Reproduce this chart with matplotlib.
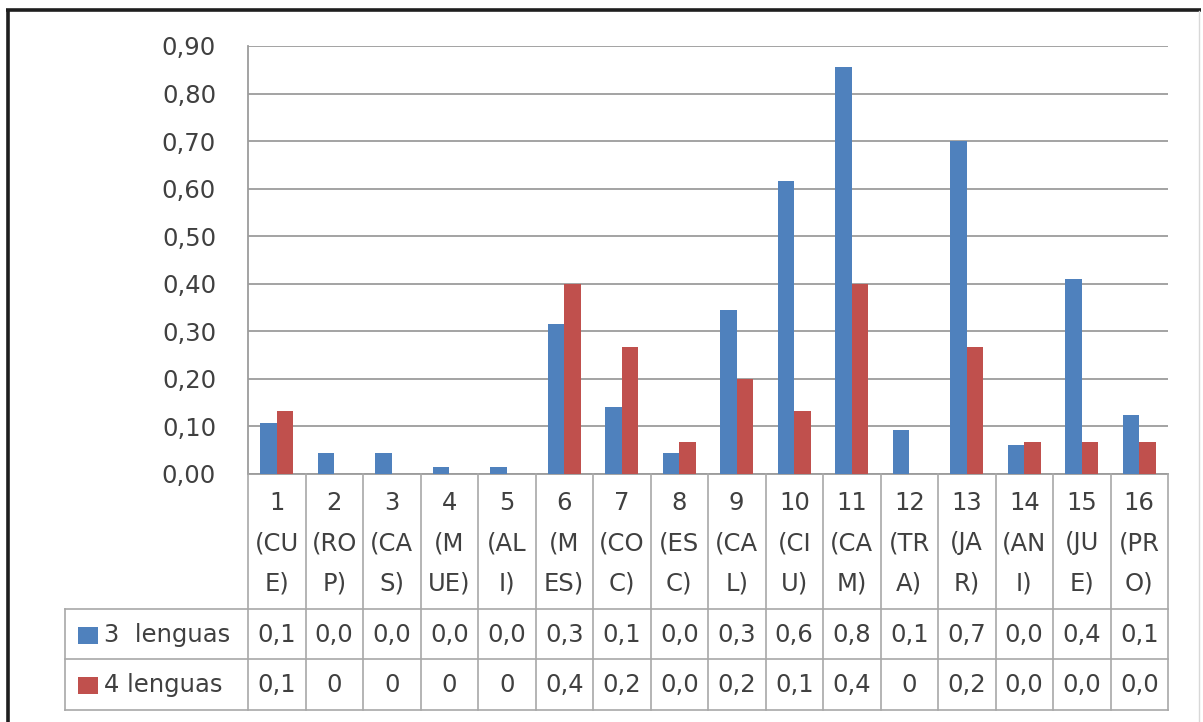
import matplotlib
matplotlib.use("Agg")
import matplotlib.pyplot as plt
import matplotlib.transforms as mtransforms
from matplotlib.lines import Line2D
from matplotlib.patches import Rectangle
import numpy as np

# ---- data ----
categories = ["1\n(CU\nE)", "2\n(RO\nP)", "3\n(CA\nS)", "4\n(M\nUE)", "5\n(AL\nI)",
              "6\n(M\nES)", "7\n(CO\nC)", "8\n(ES\nC)", "9\n(CA\nL)", "10\n(CI\nU)",
              "11\n(CA\nM)", "12\n(TR\nA)", "13\n(JA\nR)", "14\n(AN\nI)", "15\n(JU\nE)",
              "16\n(PR\nO)"]
series_names = ["3  lenguas", "4 lenguas"]
tres_lenguas = [0.107, 0.044, 0.044, 0.014, 0.014, 0.316, 0.141, 0.044, 0.345, 0.617,
                0.855, 0.093, 0.700, 0.060, 0.409, 0.124]
cuatro_lenguas = [0.1333, 0.0, 0.0, 0.0, 0.0, 0.4, 0.2667, 0.0667, 0.2, 0.1333,
                  0.4, 0.0, 0.2667, 0.0667, 0.0667, 0.0667]
# cell texts of the data table (the narrow cells show only the first characters)
tabla_tres = ["0,1", "0,0", "0,0", "0,0", "0,0", "0,3", "0,1", "0,0", "0,3", "0,6",
              "0,8", "0,1", "0,7", "0,0", "0,4", "0,1"]
tabla_cuatro = ["0,1", "0", "0", "0", "0", "0,4", "0,2", "0,0", "0,2", "0,1",
                "0,4", "0", "0,2", "0,0", "0,0", "0,0"]
yticks = [0.0, 0.1, 0.2, 0.3, 0.4, 0.5, 0.6, 0.7, 0.8, 0.9]

BLUE = "#4F81BD"
RED = "#C0504D"
TXT = "#404040"
GRID = "#9C9C9C"
CELL = "#A8A8A8"
FONT = "DejaVu Sans"
FS = 17.5

W, H = 1203, 722


def fx(px):
    return px / W


def fy(py):
    return 1 - py / H


fig = plt.figure(figsize=(W / 100, H / 100), dpi=100)
fig.patch.set_facecolor("white")

ax_left, ax_right, ax_top, ax_bot = 248, 1168, 46, 474
ax = fig.add_axes([fx(ax_left), fy(ax_bot), fx(ax_right - ax_left), (ax_bot - ax_top) / H])

n = len(categories)
x = np.arange(n)
bw = 0.285
ax.bar(x - bw / 2, tres_lenguas, bw, color=BLUE, zorder=3, linewidth=0)
ax.bar(x + bw / 2, cuatro_lenguas, bw, color=RED, zorder=3, linewidth=0)

ax.set_xlim(-0.5, n - 0.5)
ax.set_ylim(0, 0.9)
ax.set_yticks(yticks)
ax.set_yticklabels([f"{t:.2f}".replace(".", ",") for t in yticks],
                   fontsize=FS, color=TXT, family=FONT)
ax.tick_params(axis="y", length=0, pad=23)
ax.set_xticks([])
ax.yaxis.grid(True, color=GRID, linewidth=1.3, zorder=0)
ax.set_axisbelow(True)
for side in ("top", "right"):
    ax.spines[side].set_visible(False)
ax.spines["left"].set_color(GRID)
ax.spines["left"].set_linewidth(1.3)
ax.spines["bottom"].set_color(GRID)
ax.spines["bottom"].set_linewidth(1.3)

# ---- data table below the axis ----
blend = mtransforms.blended_transform_factory(ax.transData, fig.transFigure)
row_top, row1, row2, row_bot = ax_bot, 609, 659, 710
leg_left = 65

for i in range(n + 1):
    xb = i - 0.5
    fig.add_artist(Line2D([xb, xb], [fy(row_top), fy(row_bot)], transform=blend,
                          color=CELL, linewidth=1.2))
for yy in (row1, row2, row_bot):
    fig.add_artist(Line2D([fx(leg_left), fx(ax_right)], [fy(yy), fy(yy)],
                          transform=fig.transFigure, color=CELL, linewidth=1.2))
fig.add_artist(Line2D([fx(leg_left), fx(leg_left)], [fy(row1), fy(row_bot)],
                      transform=fig.transFigure, color=CELL, linewidth=1.2))

header_y = [503, 543, 583]
for i, lab in enumerate(categories):
    for line, yy in zip(lab.split("\n"), header_y):
        fig.text(i, fy(yy), line, transform=blend, ha="center", va="center",
                 fontsize=FS, color=TXT, family=FONT)

for cells, yy in ((tabla_tres, 635), (tabla_cuatro, 685)):
    for i, s in enumerate(cells):
        fig.text(i, fy(yy), s, transform=blend, ha="center", va="center",
                 fontsize=FS, color=TXT, family=FONT)

# legend keys inside the table
for name, col, yy in ((series_names[0], BLUE, 635), (series_names[1], RED, 685)):
    fig.add_artist(Rectangle((fx(78), fy(yy + 8.5)), fx(20), 17 / H,
                             transform=fig.transFigure, facecolor=col, edgecolor="none"))
    fig.text(fx(104), fy(yy), name, ha="left", va="center", fontsize=FS,
             color=TXT, family=FONT)

# ---- outer frame ----
fig.add_artist(Line2D([fx(7.5), fx(7.5)], [fy(9), 0], transform=fig.transFigure,
                      color="#1e1e1e", linewidth=2.6, solid_capstyle="butt"))
fig.add_artist(Line2D([fx(6), fx(1201)], [fy(9.5), fy(9.5)], transform=fig.transFigure,
                      color="#1e1e1e", linewidth=2.6, solid_capstyle="butt"))
fig.add_artist(Line2D([fx(1199), fx(1199)], [fy(11), 0], transform=fig.transFigure,
                      color="#d8d8d8", linewidth=1.0))

fig.savefig("out.png", dpi=100, facecolor="white")
